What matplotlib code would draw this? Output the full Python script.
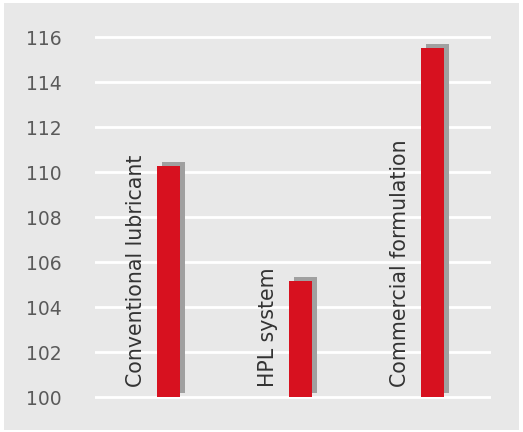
import matplotlib.pyplot as plt
from matplotlib.patches import Rectangle
from matplotlib.transforms import ScaledTranslation

# Dados
categorias = ["Conventional lubricant", "HPL system", "Commercial formulation"]
valores = [110.28, 105.17, 115.52]
ticks_y = [100, 102, 104, 106, 108, 110, 112, 114, 116]

fundo = "#e8e8e8"
vermelho = "#d7111f"
sombra = "#a0a0a0"

fig = plt.figure(figsize=(5.23, 4.32), dpi=100, facecolor="white")
# Fundo cinza do quadro
fig.patches.append(Rectangle((4 / 523, 2 / 432), 515 / 523, 427 / 432,
                             transform=fig.transFigure, facecolor=fundo,
                             edgecolor="none", zorder=-10))

ax = fig.add_axes([0.1816, 0.0543, 0.7572, 0.8854])
ax.set_facecolor("none")

x = list(range(len(categorias)))
base = ticks_y[0]
alturas = [v - base for v in valores]

# Sombra deslocada das barras
barras_sombra = ax.bar(x, alturas, width=0.174, bottom=base, color=sombra, zorder=2)
deslocamento = ScaledTranslation(5 / 100, 4 / 100, fig.dpi_scale_trans)
for p in barras_sombra:
    p.set_transform(ax.transData + deslocamento)

ax.bar(x, alturas, width=0.174, bottom=base, color=vermelho, zorder=3)

for i, nome in enumerate(categorias):
    ax.text(i - 0.245, 100.45, nome, rotation=90, ha="center", va="bottom",
            fontsize=14.8, color="#333333", family="DejaVu Sans", zorder=4)

ax.set_xlim(-0.557, 2.443)
ax.set_ylim(99.5, 116.5)
ax.set_yticks(ticks_y)
ax.set_xticks([])
ax.tick_params(axis="y", length=0, pad=24, labelsize=13.5, labelcolor="#5a5a5a")
for t in ax.get_yticklabels():
    t.set_fontfamily("DejaVu Sans")
ax.grid(axis="y", color="white", linewidth=2, zorder=1)
ax.set_axisbelow(True)
for s in ax.spines.values():
    s.set_visible(False)

fig.savefig("out.png", dpi=100, facecolor="white")
